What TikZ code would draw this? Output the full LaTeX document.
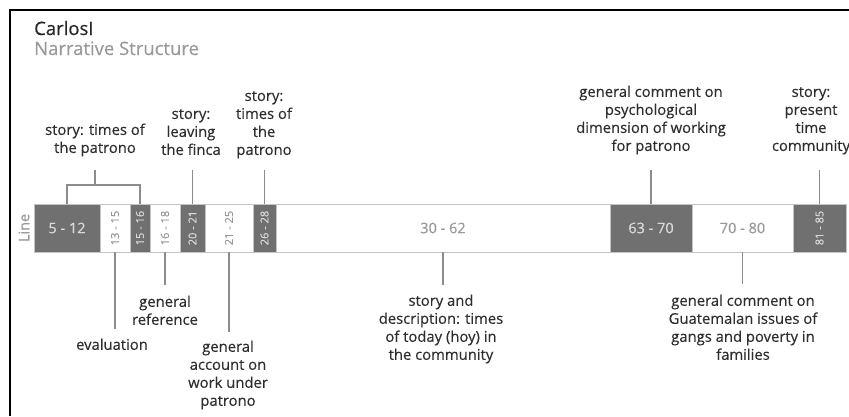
\documentclass[tikz,border=0pt]{standalone}
\usepackage{fontspec}
\setmainfont{Open Sans}
\newfontfamily\labelfont{Open Sans}[FakeBold=0.35]
\definecolor{segdark}{HTML}{707070}
\definecolor{segedge}{HTML}{C4C4C4}
\definecolor{darktxt}{HTML}{DADADA}
\definecolor{lighttxt}{HTML}{999999}
\definecolor{conncol}{HTML}{8C8C8C}
\definecolor{labtxt}{HTML}{2E2E2E}
\begin{document}
\begin{tikzpicture}[x=1pt,y=-1pt,
  seg/.style={rectangle, draw=segedge, line width=1pt, inner sep=0pt, outer sep=0pt,
    minimum height=48pt, anchor=north west},
  darkseg/.style={seg, fill=segdark, text=darktxt},
  lightseg/.style={seg, fill=white, text=lighttxt},
  segfont/.style={font=\labelfont\fontsize{14.5}{17}\selectfont},
  smallfont/.style={font=\labelfont\fontsize{11}{12}\selectfont},
  conn/.style={draw=conncol, line width=1.3pt},
  toplab/.style={align=center, inner sep=0pt, anchor=south, text=labtxt,
    font=\labelfont\fontsize{14.8}{18}\selectfont},
  botlab/.style={align=center, inner sep=0pt, anchor=north, text=labtxt,
    font=\labelfont\fontsize{14.8}{18}\selectfont}]
\useasboundingbox (0,0) rectangle (849,416);

% frame
\draw[line width=2.5pt] (10,416) -- (10,10) -- (849,10);

% title
\node[anchor=base west, inner sep=0pt, text=black!85, font=\labelfont\fontsize{18.5}{21}\selectfont] (title) at (34,35) {CarlosI};
\node[anchor=base west, inner sep=0pt, text=black!40, font=\labelfont\fontsize{18.5}{21}\selectfont] (subtitle) at (34,55) {Narrative Structure};

% line axis label
\node[rotate=90, text=lighttxt, font=\labelfont\fontsize{14.5}{17}\selectfont, inner sep=0pt] (axis) at (24,228) {Line};

% segments of the line ranges
\node[darkseg, segfont, minimum width=66pt] (s512) at (34,204) {5 - 12};
\node[lightseg, smallfont, minimum width=30pt] (s1315) at (100,204) {\rotatebox{90}{13 - 15}};
\node[darkseg, smallfont, minimum width=20pt] (s1516) at (130,204) {\rotatebox{90}{15 - 16}};
\node[lightseg, smallfont, minimum width=30pt] (s1618) at (150,204) {\rotatebox{90}{16 - 18}};
\node[darkseg, smallfont, minimum width=25pt] (s2021) at (180,204) {\rotatebox{90}{20 - 21}};
\node[lightseg, smallfont, minimum width=48pt] (s2125) at (205,204) {\rotatebox{90}{21 - 25}};
\node[darkseg, smallfont, minimum width=23pt] (s2628) at (253,204) {\rotatebox{90}{26 - 28}};
\node[lightseg, segfont, minimum width=334pt] (s3062) at (276,204) {30 - 62};
\node[darkseg, segfont, minimum width=82pt] (s6370) at (610,204) {63 - 70};
\node[lightseg, segfont, minimum width=101pt] (s7080) at (692,204) {70 - 80};
\node[darkseg, smallfont, minimum width=53pt] (s8185) at (793,204) {\rotatebox{90}{81 - 85}};

% labels above the line
\node[toplab] (l1) at (95,158.5) {\strut story: times of\\the patrono\strut};
\node[toplab] (l2) at (191,160.5) {\strut story:\\leaving\\the finca\strut};
\node[toplab] (l3) at (264,160.5) {\strut story:\\times of\\the\\patrono\strut};
\node[toplab] (l4) at (651,156.5) {\strut general comment on\\psychological\\dimension of working\\for patrono\strut};
\node[toplab] (l5) at (811,156.5) {\strut story:\\present\\time\\community\strut};

% labels below the line
\node[botlab] (b1) at (112,337) {\strut evaluation};
\node[botlab] (b2) at (165,294) {\strut general\\reference};
\node[botlab] (b3) at (228,339) {\strut general\\account on\\work under\\patrono};
\node[botlab] (b4) at (441,293) {\strut story and\\description: times\\of today (hoy) in\\the community};
\node[botlab] (b5) at (743,293) {\strut general comment on\\Guatemalan issues of\\gangs and poverty in\\families};

% free ends of the connectors
\coordinate (t1) at (95,170);
\coordinate (bk) at (95,185);
\coordinate (t2) at (192.5,170);
\coordinate (t3) at (264.5,170);
\coordinate (t4) at (651,170);
\coordinate (t5) at (819.5,170);
\coordinate (e1) at (115,329);
\coordinate (e2) at (165,285);
\coordinate (e3) at (229,332);
\coordinate (e4) at (443,285);
\coordinate (e5) at (742.5,284);

% connectors above
\draw[conn] (t1) -- (bk);
\draw[conn] (s512.north) |- (bk) -| (s1516.north);
\draw[conn] (t2) -- (s2021.north);
\draw[conn] (t3) -- (s2628.north);
\draw[conn] (t4) -- (s6370.north);
\draw[conn] (t5) -- (s8185.north);

% connectors below
\draw[conn] (s1315.south) -- (e1);
\draw[conn] (s1618.south) -- (e2);
\draw[conn] (s2125.south) -- (e3);
\draw[conn] (s3062.south) -- (e4);
\draw[conn] (s7080.south) -- (e5);
\end{tikzpicture}
\end{document}
